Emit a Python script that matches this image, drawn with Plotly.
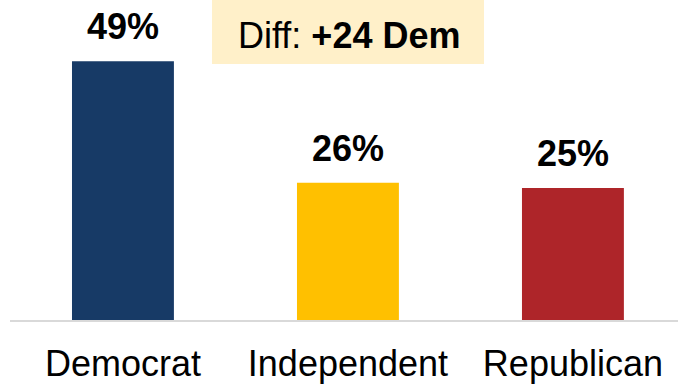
import plotly.graph_objects as go

# Party identification shares
parties = ["Democrat", "Independent", "Republican"]
shares = [49, 26, 25]
bar_colors = ["#173A66", "#FFC000", "#AE2529"]
diff_prefix = "Diff: "
diff_value = "+24 Dem"

FONT = "Liberation Sans, Arial, sans-serif"

fig = go.Figure(
    go.Bar(
        x=parties,
        y=shares,
        marker=dict(color=bar_colors, line=dict(width=0)),
        hoverinfo="skip",
    )
)

# Value labels above each bar
for p, v in zip(parties, shares):
    fig.add_annotation(
        x=p, y=v, xref="x", yref="y",
        text=f"<b>{v}%</b>",
        showarrow=False,
        yanchor="bottom",
        yshift=12,
        font=dict(family=FONT, size=36, color="#000000"),
    )

# Highlighted difference callout
fig.add_shape(
    type="rect", xref="paper", yref="paper",
    x0=(212 - 10) / 668, x1=(484 - 10) / 668,
    y0=1 - 64 / 320, y1=1.0,
    fillcolor="#FFF0C9", line=dict(width=0), layer="below",
)
fig.add_annotation(
    xref="paper", yref="paper",
    x=(348.5 - 10) / 668, y=1 - 35 / 320,
    text=f"{diff_prefix}<b>{diff_value}</b>",
    showarrow=False, xanchor="center", yanchor="middle",
    font=dict(family=FONT, size=36, color="#000000"),
)

fig.update_layout(
    width=678, height=388,
    margin=dict(l=10, r=0, t=0, b=68),
    paper_bgcolor="white", plot_bgcolor="white",
    bargap=0.547,
    showlegend=False,
    font=dict(family=FONT, color="#000000"),
    xaxis=dict(
        range=[-0.502, 2.467],
        showgrid=False, zeroline=False,
        showline=True, linecolor="#D9D9D9", linewidth=2,
        ticks="outside", ticklen=11, tickcolor="rgba(0,0,0,0)",
        tickfont=dict(family=FONT, size=36, color="#000000"),
    ),
    yaxis=dict(
        range=[0, 60.6], visible=False, fixedrange=True,
    ),
)

fig.write_html("out.html")
